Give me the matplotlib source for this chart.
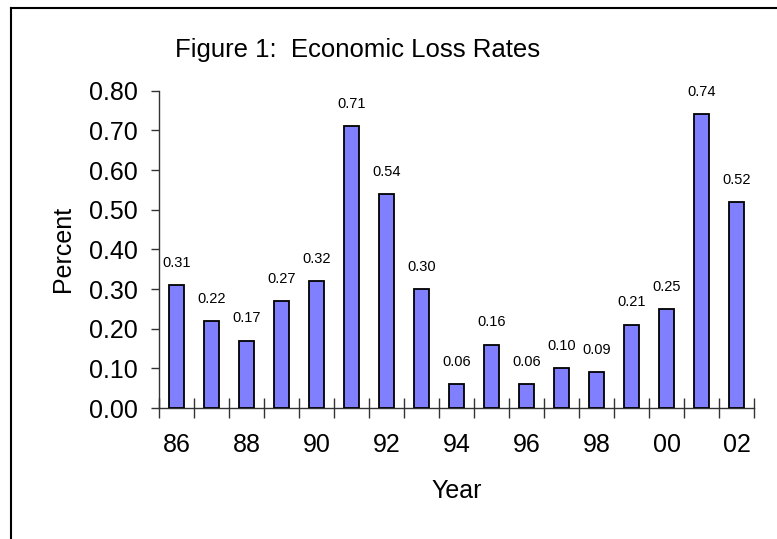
import matplotlib
matplotlib.use("Agg")
import matplotlib.pyplot as plt
from matplotlib.lines import Line2D
import numpy as np

plt.rcParams['font.family'] = ['Liberation Sans', 'DejaVu Sans']

years = ["86", "87", "88", "89", "90", "91", "92", "93", "94",
         "95", "96", "97", "98", "99", "00", "01", "02"]
loss_rates = [0.31, 0.22, 0.17, 0.27, 0.32, 0.71, 0.54, 0.30, 0.06,
              0.16, 0.06, 0.10, 0.09, 0.21, 0.25, 0.74, 0.52]
y_ticks = [0.0, 0.1, 0.2, 0.3, 0.4, 0.5, 0.6, 0.7, 0.8]

fig = plt.figure(figsize=(7.77, 5.39), dpi=100)
ax = fig.add_axes([159 / 777, 1 - 408 / 539, 595 / 777, (408 - 90.7) / 539])

x = np.arange(len(years))
ax.bar(x, loss_rates, width=0.42, color="#8080FF", edgecolor="black",
       linewidth=1.3, zorder=3)

for xi, v in zip(x, loss_rates):
    ax.annotate(f"{v:.2f}", (xi, v), xytext=(0, 16), textcoords="offset points",
                ha="center", va="center", fontsize=10.5)

ax.set_xlim(-0.5, len(years) - 0.5)
ax.set_ylim(0, 0.8)

# year labels on every other bar, tick marks at category boundaries
ax.set_xticks(x[::2])
ax.set_xticklabels(years[::2], fontsize=18)
ax.set_xticks(np.arange(-0.5, len(years)), minor=True)
ax.tick_params(axis="x", which="major", length=0, pad=18)
ax.tick_params(axis="x", which="minor", direction="inout", length=14,
               width=1, color="#333333")

ax.set_yticks(y_ticks)
ax.set_yticklabels([f"{t:.2f}" for t in y_ticks], fontsize=18)
ax.tick_params(axis="y", direction="out", length=6, width=1, pad=9,
               color="#333333")

for side in ("top", "right"):
    ax.spines[side].set_visible(False)
for side in ("left", "bottom"):
    ax.spines[side].set_color("#333333")
    ax.spines[side].set_linewidth(1)

ax.set_ylabel("Percent", fontsize=18, labelpad=10)
ax.set_xlabel("Year", fontsize=18, labelpad=16)

fig.text(357.5 / 777, 1 - 57 / 539, "Figure 1:  Economic Loss Rates",
         fontsize=18.5, ha="center", va="baseline")

# outer frame lines along the top and left edges
fig.add_artist(Line2D([11 / 777, 11 / 777], [0, 1 - 8 / 539],
                      transform=fig.transFigure, color="black", linewidth=1.5))
fig.add_artist(Line2D([11 / 777, 1], [1 - 8 / 539, 1 - 8 / 539],
                      transform=fig.transFigure, color="black", linewidth=1.5))

fig.savefig("out.png", dpi=100)
